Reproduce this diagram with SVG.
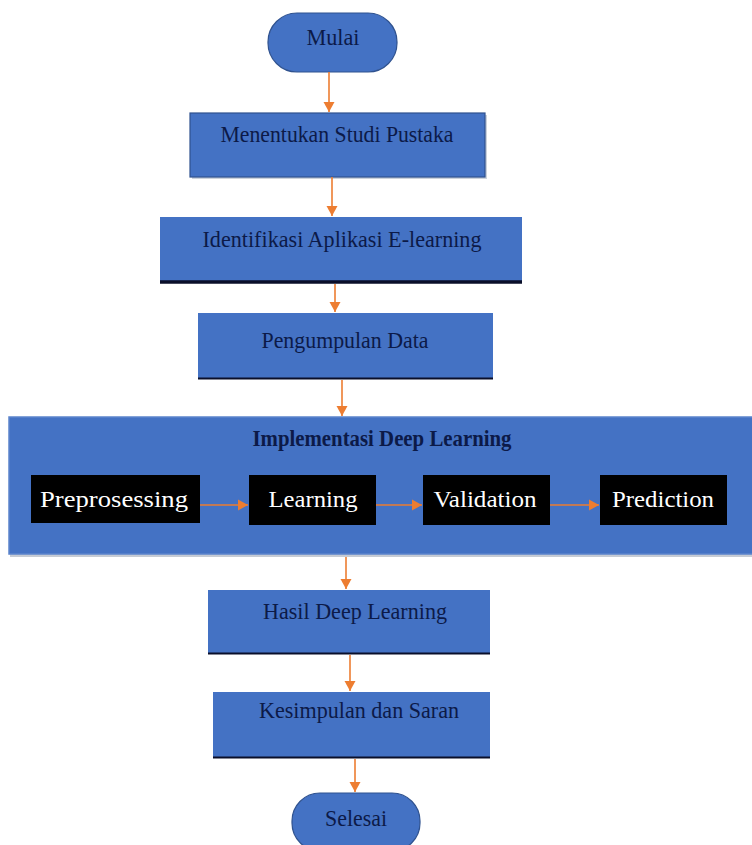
<svg xmlns="http://www.w3.org/2000/svg" width="752" height="845" viewBox="0 0 752 845">
<style>
.box{fill:#4472C4;stroke:#2F528F;stroke-width:1.2}
.t{font-family:"Liberation Serif","Times New Roman",serif;font-size:23px;fill:#0c1a48;text-anchor:middle}
.w{font-family:"Liberation Serif","Times New Roman",serif;font-size:23px;fill:#ffffff;text-anchor:middle}
.b{font-weight:bold}
.blk{fill:#000000}
.edge{stroke:#ED7D31;stroke-width:1.6;fill:none;marker-end:url(#ah)}
.bot{stroke:#0a0f2a;fill:none}
</style>
<defs>
<marker id="ah" markerUnits="userSpaceOnUse" markerWidth="12" markerHeight="12" refX="10" refY="6" orient="auto">
<path d="M0,0.5 L10,6 L0,11.5 z" fill="#ED7D31"/>
</marker>
</defs>
<rect width="752" height="845" fill="#ffffff"/>

<g id="mulai">
<rect class="box" x="268" y="13" width="129" height="59" rx="29" ry="29"/>
<text class="t" x="333" y="45" textLength="53" lengthAdjust="spacingAndGlyphs">Mulai</text>
</g>

<g id="studi-pustaka">
<rect x="192" y="115" width="295" height="64" fill="#9aa5b8" opacity="0.5"/>
<rect class="box" x="190" y="113" width="295" height="64"/>
<text class="t" x="337" y="142" textLength="233" lengthAdjust="spacingAndGlyphs">Menentukan Studi Pustaka</text>
</g>

<g id="identifikasi">
<rect x="160" y="217" width="362" height="66" fill="#4472C4"/>
<line class="bot" x1="160" y1="282" x2="522" y2="282" stroke-width="3.5"/>
<text class="t" x="342" y="247" textLength="279" lengthAdjust="spacingAndGlyphs">Identifikasi Aplikasi E-learning</text>
</g>

<g id="pengumpulan">
<rect x="198" y="313" width="295" height="66" fill="#4472C4"/>
<line class="bot" x1="198" y1="378.5" x2="493" y2="378.5" stroke-width="2"/>
<text class="t" x="345" y="348" textLength="167" lengthAdjust="spacingAndGlyphs">Pengumpulan Data</text>
</g>

<g id="implementasi">
<rect x="10" y="420" width="744" height="137" fill="#a0a8b8" opacity="0.6"/>
<rect x="9" y="417" width="745" height="137" fill="#4472C4" stroke="#5b84cc" stroke-width="1.5"/>
<text class="t b" x="382" y="446" textLength="259" lengthAdjust="spacingAndGlyphs">Implementasi Deep Learning</text>
</g>

<g id="preprosessing">
<rect class="blk" x="31" y="475" width="169" height="48"/>
<text class="w" x="114" y="507" textLength="148" lengthAdjust="spacingAndGlyphs">Preprosessing</text>
</g>
<g id="learning">
<rect class="blk" x="249" y="475" width="127" height="50"/>
<text class="w" x="313" y="507" textLength="89" lengthAdjust="spacingAndGlyphs">Learning</text>
</g>
<g id="validation">
<rect class="blk" x="423" y="475" width="127" height="50"/>
<text class="w" x="485" y="507" textLength="103" lengthAdjust="spacingAndGlyphs">Validation</text>
</g>
<g id="prediction">
<rect class="blk" x="600" y="475" width="127" height="50"/>
<text class="w" x="663" y="507" textLength="102" lengthAdjust="spacingAndGlyphs">Prediction</text>
</g>

<g id="hasil">
<rect x="208" y="590" width="282" height="64" fill="#4472C4"/>
<line class="bot" x1="208" y1="653.5" x2="490" y2="653.5" stroke-width="2"/>
<text class="t" x="355" y="619" textLength="184" lengthAdjust="spacingAndGlyphs">Hasil Deep Learning</text>
</g>

<g id="kesimpulan">
<rect x="213" y="692" width="277" height="66" fill="#4472C4"/>
<line class="bot" x1="213" y1="757.5" x2="490" y2="757.5" stroke-width="2"/>
<text class="t" x="359" y="718" textLength="200" lengthAdjust="spacingAndGlyphs">Kesimpulan dan Saran</text>
</g>

<g id="selesai">
<rect class="box" x="292" y="793" width="128" height="58" rx="28" ry="28"/>
<text class="t" x="356" y="826" textLength="62" lengthAdjust="spacingAndGlyphs">Selesai</text>
</g>

<g id="connectors">
<line class="edge" x1="329" y1="72" x2="329" y2="112"/>
<line class="edge" x1="332" y1="177" x2="332" y2="216"/>
<line class="edge" x1="335" y1="284" x2="335" y2="312"/>
<line class="edge" x1="342" y1="380" x2="342" y2="416"/>
<line class="edge" x1="200" y1="505" x2="248" y2="505"/>
<line class="edge" x1="376" y1="505" x2="422" y2="505"/>
<line class="edge" x1="550" y1="505" x2="599" y2="505"/>
<line class="edge" x1="346" y1="557" x2="346" y2="589"/>
<line class="edge" x1="350" y1="655" x2="350" y2="691"/>
<line class="edge" x1="355" y1="759" x2="355" y2="792"/>
</g>
</svg>
